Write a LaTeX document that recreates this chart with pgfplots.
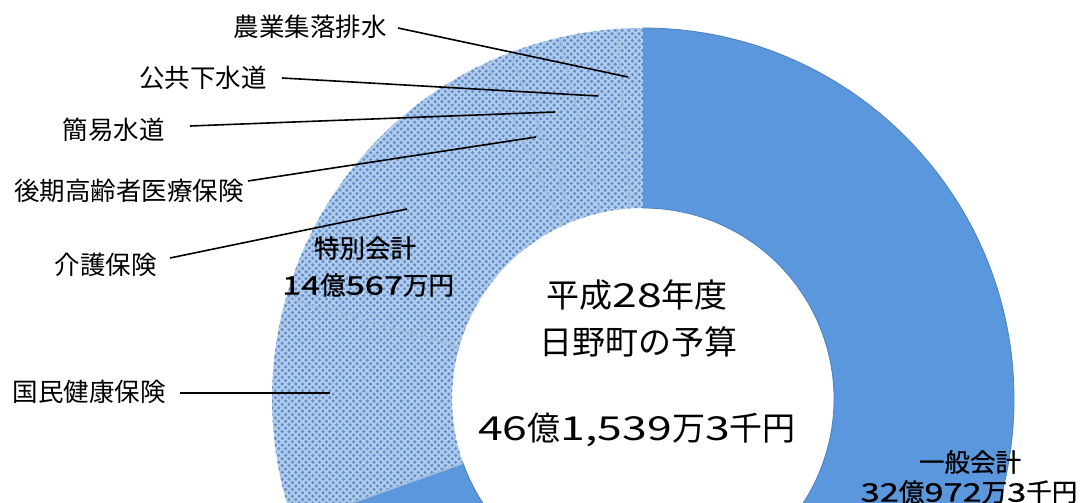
\documentclass[border=0pt]{standalone}
\usepackage{fontspec}
\setmainfont{Noto Sans CJK JP}
\newfontfamily\wdg[FakeStretch=1.35]{Noto Sans CJK JP}
\newfontfamily\semib[FakeBold=0.8]{Noto Sans CJK JP}
\newfontfamily\semibwdg[FakeBold=0.8,FakeStretch=1.35]{Noto Sans CJK JP}
\usepackage{pgfplots}
\pgfplotsset{compat=1.18}
\usepackage{pgfplotstable}
\usetikzlibrary{patterns}
\definecolor{gen}{HTML}{5B97DD}
\definecolor{spbase}{HTML}{B2CDEE}
\definecolor{spdot}{HTML}{6590C8}
\pgfdeclarepatternformonly{bigdots}{\pgfqpoint{-1pt}{-1pt}}{\pgfqpoint{4.4pt}{4.4pt}}{\pgfqpoint{3.4pt}{3.4pt}}{%
  \pgfpathcircle{\pgfqpoint{0pt}{0pt}}{0.9pt}%
  \pgfpathcircle{\pgfqpoint{1.7pt}{1.7pt}}{0.9pt}%
  \pgfusepath{fill}}
\newcommand\D[1]{{\wdg #1}}
\newcommand\SD[1]{{\semibwdg #1}}
\newcommand\lbl{\fontsize{12.75}{15}\selectfont}
\newcommand\ctr{\fontsize{16.5}{19}\selectfont}
% budget in millions of yen
\pgfplotstableread{
name value
general 3209.723
kokuho 454.0
kaigo 631.67
kouki 51.0
kani 103.0
gesui 115.0
nouson 51.0
}\budget
\pgfplotstablegetrowsof{\budget}
\pgfmathtruncatemacro\nlast{\pgfplotsretval-1}
\def\total{0}
\pgfplotsforeachungrouped \i in {0,...,\nlast}{%
  \pgfplotstablegetelem{\i}{value}\of\budget
  \let\v\pgfplotsretval
  \pgfmathsetmacro\total{\total+\v}%
}
\def\cum{0}
\pgfplotsforeachungrouped \i in {0,...,\nlast}{%
  \pgfplotstablegetelem{\i}{value}\of\budget
  \let\v\pgfplotsretval
  \pgfmathsetmacro\a{90-360*(\cum/\total)}%
  \pgfmathsetmacro\cum{\cum+\v}%
  \pgfmathsetmacro\b{90-360*(\cum/\total)}%
  \expandafter\xdef\csname sa\i\endcsname{\a}%
  \expandafter\xdef\csname sb\i\endcsname{\b}%
}
\begin{document}
\begin{tikzpicture}
\begin{axis}[
  width=541pt, height=251.5pt, scale only axis,
  xmin=0, xmax=1082, ymin=0, ymax=503,
  hide axis, clip=true,
]
\coordinate (BL) at (axis cs:0,0);
\coordinate (TR) at (axis cs:1082,503);
\coordinate (C) at (axis cs:643,104);
% general account
\fill[gen, draw=gen!85!black, line width=0.4pt]
  ([shift={(\csname sa0\endcsname:185.5pt)}]C)
  arc[start angle=\csname sa0\endcsname, end angle=\csname sb0\endcsname, radius=185.5pt]
  -- ([shift={(\csname sb0\endcsname:95.5pt)}]C)
  arc[start angle=\csname sb0\endcsname, end angle=\csname sa0\endcsname, radius=95.5pt]
  -- cycle;
% special accounts
\pgfplotsinvokeforeach{1,...,6}{%
  \fill[spbase]
    ([shift={(\csname sa#1\endcsname:185.5pt)}]C)
    arc[start angle=\csname sa#1\endcsname, end angle=\csname sb#1\endcsname, radius=185.5pt]
    -- ([shift={(\csname sb#1\endcsname:95.5pt)}]C)
    arc[start angle=\csname sb#1\endcsname, end angle=\csname sa#1\endcsname, radius=95.5pt]
    -- cycle;
  \fill[pattern=bigdots, pattern color=spdot]
    ([shift={(\csname sa#1\endcsname:185.5pt)}]C)
    arc[start angle=\csname sa#1\endcsname, end angle=\csname sb#1\endcsname, radius=185.5pt]
    -- ([shift={(\csname sb#1\endcsname:95.5pt)}]C)
    arc[start angle=\csname sb#1\endcsname, end angle=\csname sa#1\endcsname, radius=95.5pt]
    -- cycle;
  \draw[white!40!spdot, line width=0.8pt]
    ([shift={(\csname sa#1\endcsname:95.5pt)}]C) -- ([shift={(\csname sa#1\endcsname:185.5pt)}]C);
}
% leaders
\draw[black, line width=0.8pt] (axis cs:398,475) -- (axis cs:628,426);
\draw[black, line width=0.8pt] (axis cs:282,425) -- (axis cs:598,407);
\draw[black, line width=0.8pt] (axis cs:190,377) -- (axis cs:555,391);
\draw[black, line width=0.8pt] (axis cs:248,322) -- (axis cs:536,366);
\draw[black, line width=0.8pt] (axis cs:170,245) -- (axis cs:407,294);
\draw[black, line width=0.8pt] (axis cs:180,110) -- (axis cs:330,110);
% labels
\node[anchor=east, font=\lbl, inner sep=0pt] at (axis cs:387,476) {農業集落排水};
\node[anchor=east, font=\lbl, inner sep=0pt] at (axis cs:267,425) {公共下水道};
\node[anchor=east, font=\lbl, inner sep=0pt] at (axis cs:165,373) {簡易水道};
\node[anchor=east, font=\lbl, inner sep=0pt] at (axis cs:244,312) {後期高齢者医療保険};
\node[anchor=east, font=\lbl, inner sep=0pt] at (axis cs:157,238) {介護保険};
\node[anchor=east, font=\lbl, inner sep=0pt] at (axis cs:166,111) {国民健康保険};
\node[font=\lbl\semib, inner sep=0pt] at (axis cs:365,255) {特別会計};
\node[font=\lbl\semib, inner sep=0pt] at (axis cs:368,218) {\SD{14}億\SD{567}万円};
\node[font=\lbl\semib, inner sep=0pt] at (axis cs:970,41) {一般会計};
\node[font=\lbl\semib, inner sep=0pt] at (axis cs:969,11) {\SD{32}億\SD{972}万\SD{3}千円};
\node[font=\ctr, inner sep=0pt] at (axis cs:637,208) {平成\D{28}年度};
\node[font=\ctr, inner sep=0pt] at (axis cs:638,161) {日野町の予算};
\node[font=\ctr, inner sep=0pt] at (axis cs:637,73) {\D{46}億\D{1,539}万\D{3}千円};
\end{axis}
\pgfresetboundingbox
\path (BL) rectangle (TR);
\end{tikzpicture}
\end{document}
